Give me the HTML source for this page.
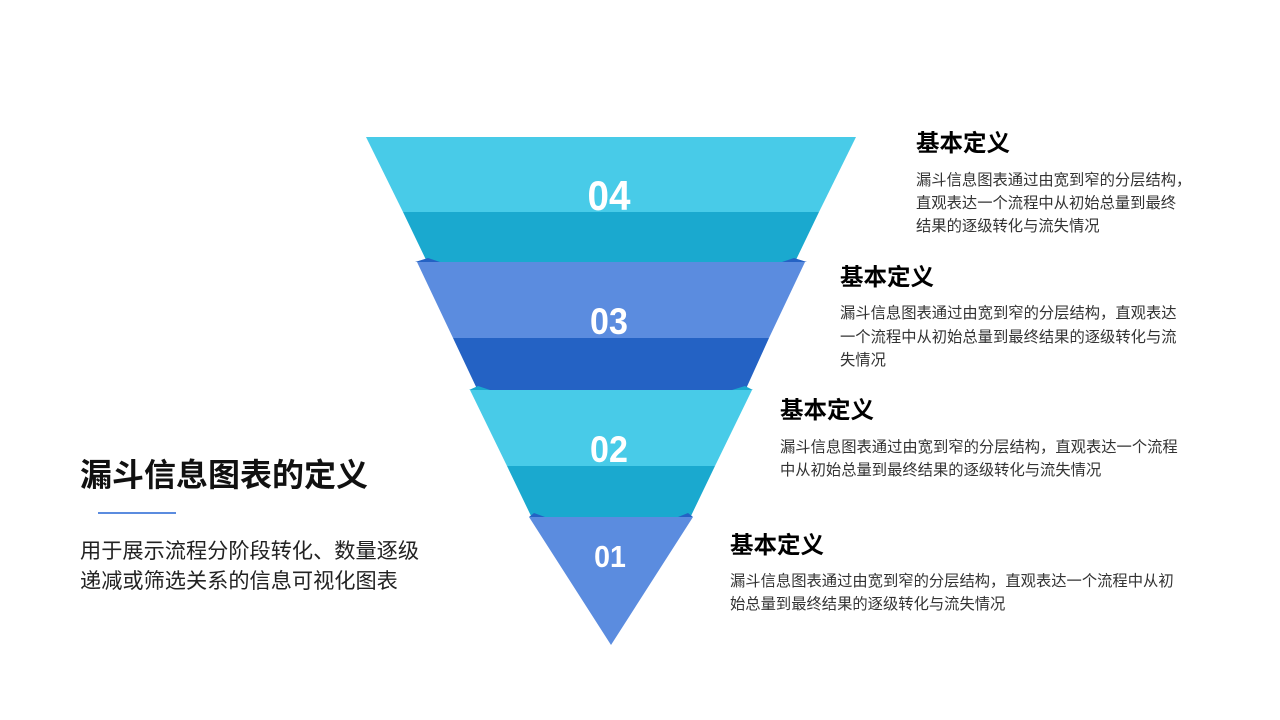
<!DOCTYPE html>
<html><head><meta charset="utf-8"><style>
body{margin:0;background:#fff}
svg{display:block}
text{font-family:"Liberation Sans","Noto Sans CJK SC",sans-serif}
</style></head><body>
<svg width="1280" height="720" viewBox="0 0 1280 720">
<polygon points="366,137 856,137 819,212 403,212" fill="#48CBE8"/>
<polygon points="403,212 819,212 794,264 428,264" fill="#1AA9CF"/>
<polygon points="415,262 428,258 440,262" fill="#2462C4"/>
<polygon points="782,262 794,258 807,262" fill="#2462C4"/>
<polygon points="417,262 805,262 769,338 453,338" fill="#5B8CDF"/>
<polygon points="453,338 769,338 745,391 478,391" fill="#2462C4"/>
<polygon points="469,390 478,386 490,390" fill="#1AA9CF"/>
<polygon points="732,390 745,386 753,390" fill="#1AA9CF"/>
<polygon points="470,390 752,390 715,466 507,466" fill="#48CBE8"/>
<polygon points="507,466 715,466 690,518 532,518" fill="#1AA9CF"/>
<polygon points="529,517 534,513 545,517" fill="#2462C4"/>
<polygon points="678,517 688,513 693,517" fill="#2462C4"/>
<polygon points="529,517 693,517 611,645" fill="#5B8CDF"/>
<g fill="#fff" font-weight="bold" text-anchor="middle">
<text x="609" y="210" font-size="42" transform="translate(609 0) scale(0.92 1) translate(-609 0)">04</text>
<text x="609" y="334" font-size="37" transform="translate(609 0) scale(0.92 1) translate(-609 0)">03</text>
<text x="609" y="462" font-size="37" transform="translate(609 0) scale(0.92 1) translate(-609 0)">02</text>
<text x="610" y="567" font-size="31" transform="translate(610 0) scale(0.92 1) translate(-610 0)">01</text>
</g>
<g fill="#000" font-weight="bold" font-size="23.5">
<text x="916" y="151">基本定义</text>
<text x="840" y="285">基本定义</text>
<text x="780" y="418">基本定义</text>
<text x="730" y="553">基本定义</text>
</g>
<g fill="#333" font-size="15.3">
<text x="916" y="185">漏斗信息图表通过由宽到窄的分层结构，</text>
<text x="916" y="208">直观表达一个流程中从初始总量到最终</text>
<text x="916" y="231">结果的逐级转化与流失情况</text>
<text x="840" y="318">漏斗信息图表通过由宽到窄的分层结构，直观表达</text>
<text x="840" y="342">一个流程中从初始总量到最终结果的逐级转化与流</text>
<text x="840" y="365">失情况</text>
<text x="780" y="452">漏斗信息图表通过由宽到窄的分层结构，直观表达一个流程</text>
<text x="780" y="475">中从初始总量到最终结果的逐级转化与流失情况</text>
<text x="730" y="586">漏斗信息图表通过由宽到窄的分层结构，直观表达一个流程中从初</text>
<text x="730" y="609">始总量到最终结果的逐级转化与流失情况</text>
</g>
<text x="80" y="486" font-size="32" font-weight="bold" fill="#111">漏斗信息图表的定义</text>
<rect x="98" y="512" width="78" height="2" fill="#5B8CDF"/>
<g fill="#222" font-size="21.2">
<text x="80" y="558">用于展示流程分阶段转化、数量逐级</text>
<text x="80" y="588">递减或筛选关系的信息可视化图表</text>
</g>
</svg>
</body></html>
